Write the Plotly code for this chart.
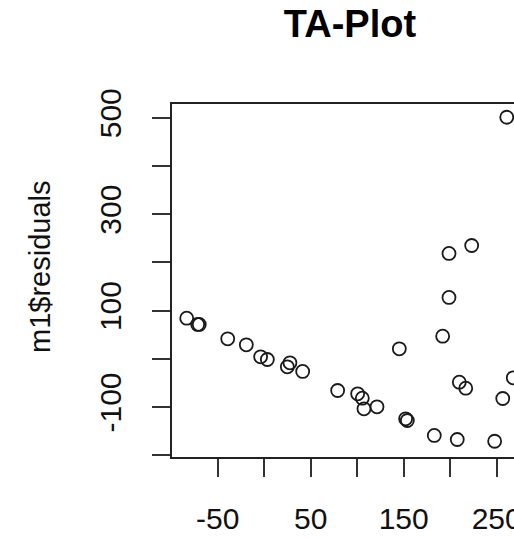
import plotly.graph_objects as go

# Tukey-Anscombe plot: fitted values vs residuals
fitted = [-83.3, -71.5, -69.8, -39.2, -19.2, -3.8, 3.4, 27.7, 24.9, 41.4,
          79.0, 100.5, 105.5, 107.3, 121.3, 152.1, 153.9, 145.3, 182.9, 207.6,
          247.8, 191.9, 198.7, 198.7, 223.1, 209.8, 216.7, 256.5, 267.8, 260.8]
residuals = [84.2, 71.2, 71.2, 41.5, 29.0, 4.1, -1.5, -8.3, -16.6, -26.3,
             -65.8, -72.6, -81.7, -103.7, -99.6, -124.5, -128.0, 20.7, -159.0, -167.4,
             -171.0, 46.9, 127.2, 218.5, 235.0, -48.5, -61.0, -82.4, -39.4, 501.0]

x_tickvals = [-50, 50, 150, 250]
x_ticktext = ["-50", "50", "150", "250"]
y_tickvals = [-100, 100, 300, 500]
y_ticktext = ["-100", "100", "300", "500"]

title_text = "TA-Plot"
ylabel = "m1$residuals"

FONT = "Liberation Sans, Arial, Helvetica, sans-serif"
W, H = 514, 539
L, R, T, B = 172, 0, 104, 82

fig = go.Figure()
fig.add_trace(go.Scatter(
    x=fitted, y=residuals, mode="markers",
    marker=dict(symbol="circle-open", size=13, color="#1a1a1a",
                line=dict(width=1.8, color="#1a1a1a")),
    showlegend=False, hoverinfo="skip",
))

axis_common = dict(
    showgrid=False, zeroline=False, showline=True, linecolor="#222",
    linewidth=1.6, ticks="outside", ticklen=18, tickwidth=1.6, tickcolor="#333",
    tickfont=dict(family=FONT, size=30, color="#111"),
    ticklabeloverflow="allow", automargin=False,
)

fig.update_layout(
    width=W, height=H,
    margin=dict(l=L, r=R, t=T, b=B, pad=0, autoexpand=False),
    paper_bgcolor="white", plot_bgcolor="white",
    title=dict(text="<b>" + title_text + "</b>", font=dict(family=FONT, size=38, color="#000"),
               x=350 / W, xanchor="center", xref="container",
               y=1 - 24 / H, yanchor="middle", yref="container"),
    xaxis=dict(range=[-99.1, 268.6], tickmode="array", tickvals=x_tickvals,
               ticktext=x_ticktext, mirror=True,
               minor=dict(tick0=-50, dtick=50, ticks="outside", ticklen=18,
                          tickwidth=1.6, tickcolor="#333", showgrid=False),
               ticklabelstandoff=16, **axis_common),
    yaxis=dict(range=[-203.7, 528.5], tickmode="array", tickvals=y_tickvals,
               ticktext=y_ticktext, tickangle=-90,
               minor=dict(tick0=-100, dtick=100, ticks="outside", ticklen=18,
                          tickwidth=1.6, tickcolor="#333", showgrid=False),
               ticklabelstandoff=19, **axis_common),
    annotations=[dict(text=ylabel, textangle=-90, showarrow=False,
                      xref="paper", yref="paper",
                      x=(40 - L) / (W - L - R), y=(H - B - 267) / (H - T - B),
                      xanchor="center", yanchor="middle",
                      font=dict(family=FONT, size=29, color="#111"))],
)

fig.write_html("out.html")
